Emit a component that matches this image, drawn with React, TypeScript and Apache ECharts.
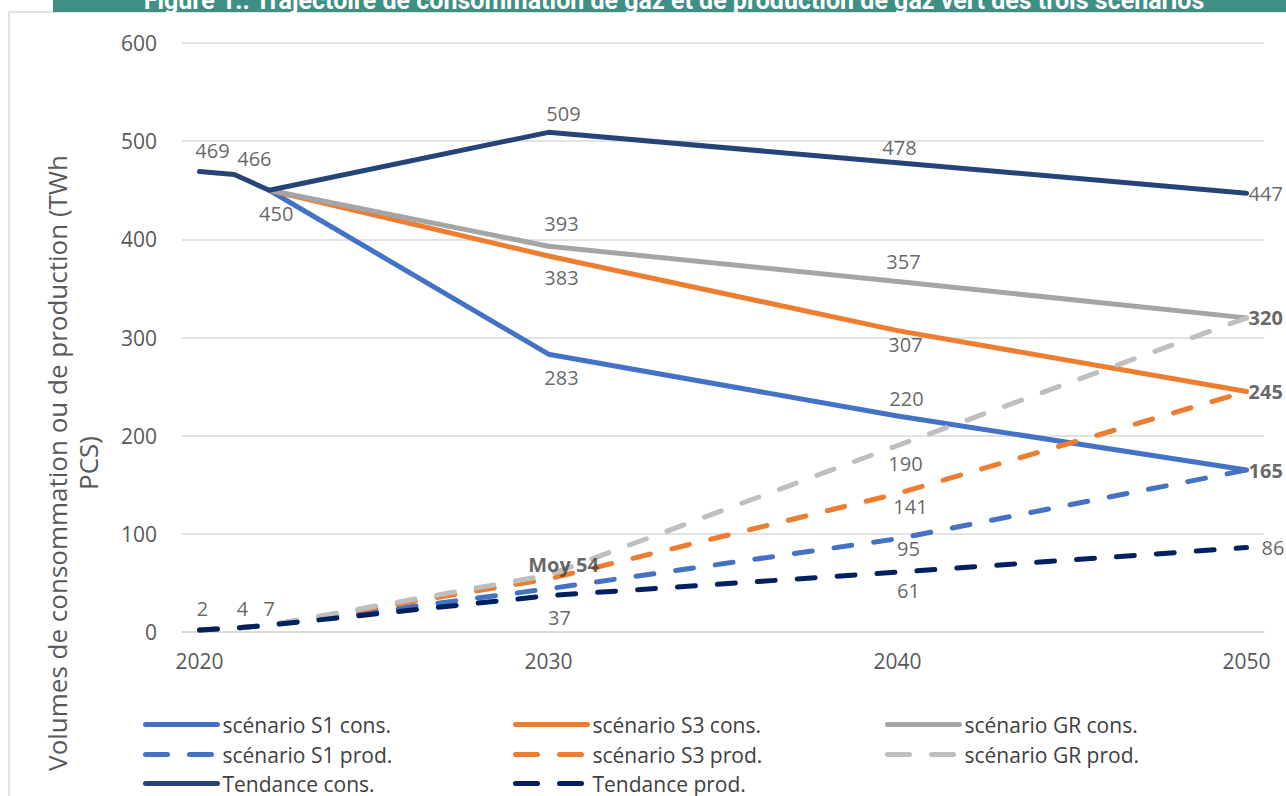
import React, { useEffect, useRef } from "react";
import * as echarts from "echarts";

// Years on the horizontal axis
const YEAR_LABELS = [2020, 2030, 2040, 2050];
const Y_TICKS = { min: 0, max: 600, step: 100 };

// Consumption trajectories (TWh PCS)
const consYearsTendance = [2020, 2021, 2022, 2030, 2040, 2050];
const consTendance = [469, 466, 450, 509, 478, 447];
const consYearsScen = [2022, 2030, 2040, 2050];
const consS1 = [450, 283, 220, 165];
const consS3 = [450, 383, 307, 245];
const consGR = [450, 393, 357, 320];

// Green gas production trajectories (TWh PCS)
const prodYears = [2020, 2021, 2022, 2030, 2040, 2050];
const prodS1 = [2, 4, 7, 44, 95, 165];
const prodS3 = [2, 4, 7, 54, 141, 245];
const prodGR = [2, 4, 7, 58, 190, 320];
const prodTendance = [2, 4, 7, 37, 61, 86];

const TITLE =
  "Figure 1.: Trajectoire de consommation de gaz et de production de gaz vert des trois scénarios";
const Y_NAME = "Volumes de consommation ou de production (TWh\nPCS)";

type LabelSpec = { year: number; dx: number; dy: number; align?: string; bold?: boolean; prefix?: string };

type SeriesDef = {
  name: string;
  years: number[];
  values: number[];
  color: string;
  dashed: boolean;
  labels: LabelSpec[];
  legend: { left: number; top: number };
};

const FONT = "'Open Sans', 'Noto Sans', sans-serif";

const SERIES: SeriesDef[] = [
  {
    name: "scénario S1 cons.",
    years: consYearsScen,
    values: consS1,
    color: "#4472C4",
    dashed: false,
    labels: [
      { year: 2030, dx: 13, dy: 23 },
      { year: 2040, dx: 9, dy: -18 },
      { year: 2050, dx: 2, dy: 0, align: "left", bold: true },
    ],
    legend: { left: 143, top: 721 },
  },
  {
    name: "scénario S3 cons.",
    years: consYearsScen,
    values: consS3,
    color: "#ED7D31",
    dashed: false,
    labels: [
      { year: 2030, dx: 13, dy: 21 },
      { year: 2040, dx: 8, dy: 14 },
      { year: 2050, dx: 2, dy: 0, align: "left", bold: true },
    ],
    legend: { left: 513, top: 721 },
  },
  {
    name: "scénario GR cons.",
    years: consYearsScen,
    values: consGR,
    color: "#A5A5A5",
    dashed: false,
    labels: [
      { year: 2030, dx: 13, dy: -23 },
      { year: 2040, dx: 6, dy: -20 },
      { year: 2050, dx: 2, dy: 0, align: "left", bold: true },
    ],
    legend: { left: 885, top: 721 },
  },
  {
    name: "scénario S1 prod.",
    years: prodYears,
    values: prodS1,
    color: "#4472C4",
    dashed: true,
    labels: [{ year: 2040, dx: 11, dy: 10 }],
    legend: { left: 143, top: 751 },
  },
  {
    name: "scénario S3 prod.",
    years: prodYears,
    values: prodS3,
    color: "#ED7D31",
    dashed: true,
    labels: [
      { year: 2030, dx: 15, dy: -14, bold: true, prefix: "Moy " },
      { year: 2040, dx: 13, dy: 13 },
    ],
    legend: { left: 513, top: 751 },
  },
  {
    name: "scénario GR prod.",
    years: prodYears,
    values: prodGR,
    color: "#BFBFBF",
    dashed: true,
    labels: [{ year: 2040, dx: 8, dy: 18 }],
    legend: { left: 885, top: 751 },
  },
  {
    name: "Tendance cons.",
    years: consYearsTendance,
    values: consTendance,
    color: "#264478",
    dashed: false,
    labels: [
      { year: 2020, dx: 13, dy: -21 },
      { year: 2021, dx: 20, dy: -16 },
      { year: 2022, dx: 7, dy: 23 },
      { year: 2030, dx: 15, dy: -19 },
      { year: 2040, dx: 2, dy: -15 },
      { year: 2050, dx: 2, dy: 0, align: "left" },
    ],
    legend: { left: 143, top: 780 },
  },
  {
    name: "Tendance prod.",
    years: prodYears,
    values: prodTendance,
    color: "#002060",
    dashed: true,
    labels: [
      { year: 2020, dx: 3, dy: -22 },
      { year: 2021, dx: 8, dy: -20 },
      { year: 2022, dx: 0, dy: -17 },
      { year: 2030, dx: 11, dy: 22 },
      { year: 2040, dx: 11, dy: 18 },
      { year: 2050, dx: 15, dy: 0, align: "left" },
    ],
    legend: { left: 513, top: 780 },
  },
];

const DASH = [18, 22];

function buildOption() {
  const lineSeries: any[] = [];
  const labelSeries: any[] = [];
  const legends: any[] = [];

  SERIES.forEach((s) => {
    const points = s.years.map((y, i) => [y, s.values[i]]);
    lineSeries.push({
      name: s.name,
      type: "line",
      data: points,
      symbol: "none",
      showSymbol: false,
      color: s.color,
      lineStyle: {
        color: s.color,
        width: 5,
        type: s.dashed ? DASH : "solid",
        cap: "round",
        join: "round",
      },
      itemStyle: { color: s.color },
      emphasis: { disabled: true },
      z: 2,
    });

    labelSeries.push({
      type: "scatter",
      silent: true,
      symbolSize: 1,
      itemStyle: { color: "rgba(0,0,0,0)" },
      z: 5,
      data: s.labels.map((l) => {
        const idx = s.years.indexOf(l.year);
        const v = s.values[idx];
        return {
          value: [l.year, v],
          label: {
            show: true,
            position: "inside",
            offset: [l.dx, l.dy],
            align: l.align || "center",
            verticalAlign: "middle",
            formatter: (l.prefix || "") + String(v),
            fontFamily: FONT,
            fontSize: 20,
            fontWeight: l.bold ? "bold" : "normal",
            color: "#404040",
          },
        };
      }),
    });

    legends.push({
      data: [s.name],
      left: s.legend.left,
      top: s.legend.top - 7,
      padding: 0,
      itemWidth: 72,
      itemHeight: 14,
      itemGap: 0,
      selectedMode: false,
      itemStyle: { opacity: 0, borderWidth: 0 },
      textStyle: { fontFamily: FONT, fontSize: 21, color: "#404040", padding: [0, 0, 0, 0] },
      lineStyle: {
        width: 5,
        cap: "round",
        type: s.dashed ? [22, 22] : "solid",
      },
    });
  });

  return {
    animation: false,
    backgroundColor: "#ffffff",
    grid: { left: 182, right: 22, top: 43, bottom: 164, containLabel: false },
    xAxis: {
      type: "value",
      min: YEAR_LABELS[0] - 0.5,
      max: YEAR_LABELS[YEAR_LABELS.length - 1] + 0.5,
      splitLine: { show: false },
      axisTick: { show: false },
      axisLine: { show: true, lineStyle: { color: "#d9d9d9", width: 1.5 } },
      axisLabel: {
        customValues: YEAR_LABELS,
        formatter: (v: number) => String(v),
        fontFamily: FONT,
        fontSize: 21,
        color: "#595959",
        margin: 18,
      },
    },
    yAxis: {
      type: "value",
      min: Y_TICKS.min,
      max: Y_TICKS.max,
      interval: Y_TICKS.step,
      axisLine: { show: false },
      axisTick: { show: false },
      splitLine: { lineStyle: { color: "#d9d9d9", width: 1.5 } },
      axisLabel: { fontFamily: FONT, fontSize: 21, color: "#595959", margin: 25 },
    },
    legend: legends,
    graphic: [
      {
        type: "rect",
        shape: { x: 9, y: 12, width: 1300, height: 800 },
        style: { fill: "none", stroke: "#d9d9d9", lineWidth: 1.5 },
        z: -1,
        silent: true,
      },
      {
        type: "rect",
        shape: { x: 53, y: 0, width: 1240, height: 12 },
        style: { fill: "#3F8F84" },
        silent: true,
      },
      {
        type: "text",
        x: 674,
        y: 13,
        style: {
          text: TITLE,
          fill: "#ffffff",
          font: "bold 25px 'Roboto', sans-serif",
          textAlign: "center",
          textVerticalAlign: "bottom",
        },
        silent: true,
      },
      {
        type: "text",
        x: 72,
        y: 463,
        rotation: Math.PI / 2,
        style: {
          text: Y_NAME,
          fill: "#595959",
          font: "26px 'Open Sans', sans-serif",
          textAlign: "center",
          textVerticalAlign: "middle",
          lineHeight: 31,
        },
        silent: true,
      },
    ],
    series: [...lineSeries, ...labelSeries],
  };
}

export default function App() {
  const ref = useRef<HTMLDivElement>(null);
  useEffect(() => {
    if (!ref.current) return;
    const chart = echarts.init(ref.current, undefined, { renderer: "svg" });
    chart.setOption(buildOption() as any);
    return () => chart.dispose();
  }, []);
  return (
    <div
      ref={ref}
      style={{ position: "fixed", left: 0, top: 0, width: 1286, height: 796, background: "#fff" }}
    />
  );
}
